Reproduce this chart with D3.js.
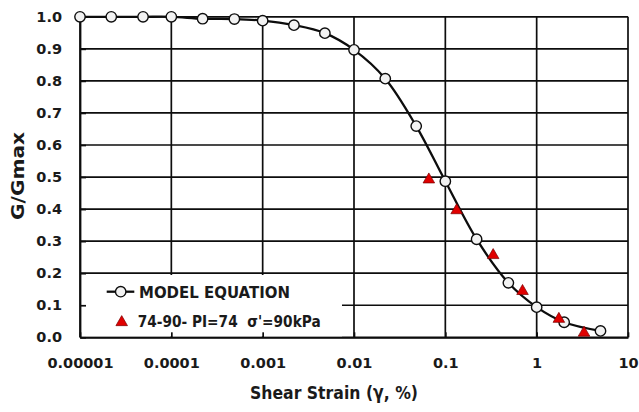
<!DOCTYPE html>
<html>
<head>
<meta charset="utf-8">
<script src="https://cdn.jsdelivr.net/npm/d3@7"></script>
<style>
  html, body { margin: 0; padding: 0; background: #fff; }
  svg { display: block; }
</style>
</head>
<body>
<div id="chart"></div>
<script>
// model equation points (shear strain %, G/Gmax)
const modelStrain = [0.00001, 0.000022, 0.000049, 0.0001, 0.00022, 0.00049, 0.001, 0.0022, 0.0048,
                     0.01, 0.022, 0.048, 0.1, 0.22, 0.49, 1, 2, 5];
const modelG = [1.0, 1.0, 1.0, 1.0, 0.994, 0.993, 0.988, 0.974, 0.949,
                0.897, 0.807, 0.659, 0.487, 0.306, 0.170, 0.094, 0.047, 0.020];

// test 74-90
const testStrain = [0.066, 0.133, 0.334, 0.70, 1.75, 3.3];
const testG = [0.497, 0.401, 0.261, 0.149, 0.062, 0.019];

const xTicks = [0.00001, 0.0001, 0.001, 0.01, 0.1, 1, 10];
const xTickLabels = ["0.00001", "0.0001", "0.001", "0.01", "0.1", "1", "10"];
const yTicks = [0, 0.1, 0.2, 0.3, 0.4, 0.5, 0.6, 0.7, 0.8, 0.9, 1.0];
const yTickLabels = ["0.0", "0.1", "0.2", "0.3", "0.4", "0.5", "0.6", "0.7", "0.8", "0.9", "1.0"];

const legendLabels = ["MODEL EQUATION", "74-90- PI=74  \u03c3'=90kPa"];
const xTitle = "Shear Strain (\u03b3, %)";
const yTitle = "G/Gmax";

const W = 639, H = 412;
const pLeft = 80, pRight = 628, pTop = 16.8, pBottom = 337.3;

let svg = d3.select("#chart").append("svg")
    .attr("width", W).attr("height", H);

let x = d3.scaleLog().domain([0.00001, 10]).range([pLeft, pRight]);
let y = d3.scaleLinear().domain([0, 1]).range([pBottom, pTop]);

const ink = "#0d0d0d";

// gridlines
let grid = svg.append("g");
grid.selectAll("line.v").data(xTicks).join("line")
    .attr("class", "v")
    .attr("x1", d => x(d)).attr("x2", d => x(d))
    .attr("y1", pTop).attr("y2", pBottom)
    .attr("stroke", ink).attr("stroke-width", 1.7);
grid.selectAll("line.h").data(yTicks).join("line")
    .attr("class", "h")
    .attr("x1", pLeft).attr("x2", pRight)
    .attr("y1", d => y(d)).attr("y2", d => y(d))
    .attr("stroke", ink).attr("stroke-width", 1.7);

// legend background hides the grid in the lower-left corner
let legend = svg.append("g");
legend.append("rect")
    .attr("x", pLeft + 1).attr("y", 275)
    .attr("width", 261).attr("height", pBottom - 275 - 1)
    .attr("fill", "#fff");

// axes, ticks drawn inside
let xAxis = svg.append("g")
    .attr("transform", "translate(0," + pBottom + ")")
    .call(d3.axisBottom(x).tickValues(xTicks)
        .tickFormat((d, i) => xTickLabels[i])
        .tickSizeInner(-5).tickSizeOuter(0).tickPadding(20));
let yAxis = svg.append("g")
    .attr("transform", "translate(" + pLeft + ",0)")
    .call(d3.axisLeft(y).tickValues(yTicks)
        .tickFormat((d, i) => yTickLabels[i])
        .tickSizeInner(-6).tickSizeOuter(0).tickPadding(18));

[xAxis, yAxis].forEach(a => {
  a.selectAll("path.domain").attr("stroke", ink).attr("stroke-width", 1.8);
  a.selectAll(".tick line").attr("stroke", ink).attr("stroke-width", 1.7);
  a.selectAll("text")
      .attr("fill", "#1a1a1a")
      .style("font-family", "'DejaVu Sans', sans-serif")
      .style("font-weight", "bold")
      .style("font-size", "14.5px");
});

// model line
let line = d3.line()
    .x((d, i) => x(modelStrain[i]))
    .y(d => y(d))
    .curve(d3.curveCatmullRom.alpha(0.5));

svg.append("path")
    .datum(modelG)
    .attr("fill", "none")
    .attr("stroke", ink)
    .attr("stroke-width", 2.3)
    .attr("stroke-linejoin", "round")
    .attr("d", line);

svg.append("g").selectAll("circle").data(modelG).join("circle")
    .attr("cx", (d, i) => x(modelStrain[i]))
    .attr("cy", d => y(d))
    .attr("r", 5.2)
    .attr("fill", "#f2f2f2")
    .attr("stroke", ink)
    .attr("stroke-width", 1.4);

const tri = d3.symbol(d3.symbolTriangle, 58);
svg.append("g").selectAll("path").data(testG).join("path")
    .attr("d", tri)
    .attr("transform", (d, i) => "translate(" + x(testStrain[i]) + "," + (y(d) + 1.6) + ")")
    .attr("fill", "#e00000")
    .attr("stroke", "#7a0000")
    .attr("stroke-width", 0.7);

// legend entries
legend.append("line")
    .attr("x1", 106.7).attr("x2", 134.3).attr("y1", 291.7).attr("y2", 291.7)
    .attr("stroke", ink).attr("stroke-width", 2.3);
legend.append("circle")
    .attr("cx", 120.7).attr("cy", 291.7).attr("r", 5.2)
    .attr("fill", "#f2f2f2").attr("stroke", ink).attr("stroke-width", 1.4);
legend.append("path")
    .attr("d", tri)
    .attr("transform", "translate(121.7,322.3)")
    .attr("fill", "#e00000").attr("stroke", "#7a0000").attr("stroke-width", 0.7);

const legendLengths = [151, 183];
legend.selectAll("text").data(legendLabels).join("text")
    .attr("x", (d, i) => i === 0 ? 139 : 137.7)
    .attr("y", (d, i) => i === 0 ? 297.5 : 326.7)
    .attr("xml:space", "preserve")
    .attr("textLength", (d, i) => legendLengths[i])
    .attr("lengthAdjust", "spacingAndGlyphs")
    .attr("fill", "#1a1a1a")
    .style("font-family", "'DejaVu Sans', sans-serif")
    .style("font-weight", "bold")
    .style("font-size", "15.5px")
    .style("white-space", "pre")
    .text(d => d);

// axis titles
svg.append("text")
    .attr("x", 334).attr("y", 399.3)
    .attr("text-anchor", "middle")
    .attr("textLength", 168).attr("lengthAdjust", "spacingAndGlyphs")
    .attr("fill", "#1a1a1a")
    .style("font-family", "'DejaVu Sans', sans-serif")
    .style("font-weight", "bold")
    .style("font-size", "18.5px")
    .text(xTitle);

svg.append("text")
    .attr("transform", "translate(24,176) rotate(-90)")
    .attr("text-anchor", "middle")
    .attr("textLength", 88).attr("lengthAdjust", "spacingAndGlyphs")
    .attr("fill", "#1a1a1a")
    .style("font-family", "'DejaVu Sans', sans-serif")
    .style("font-weight", "bold")
    .style("font-size", "18.5px")
    .text(yTitle);
</script>
</body>
</html>
